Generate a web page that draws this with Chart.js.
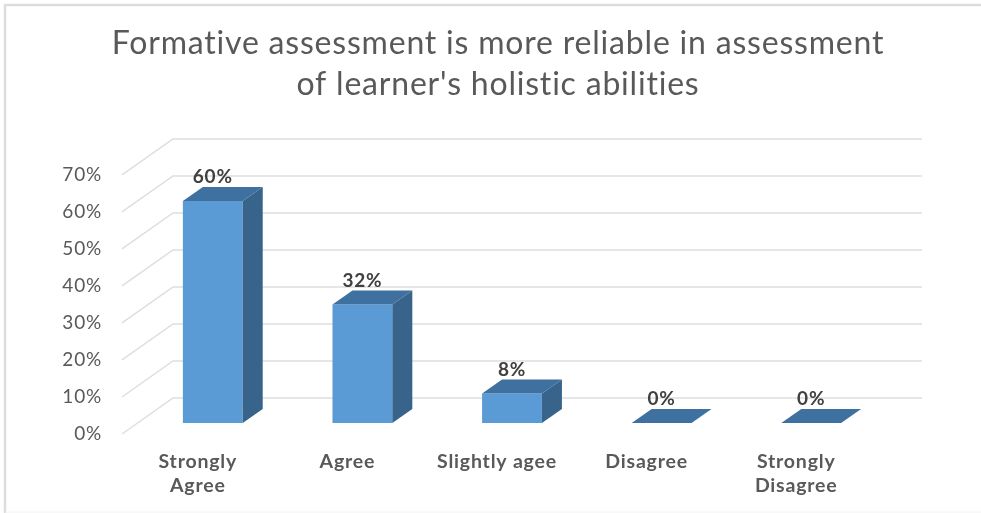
<!DOCTYPE html>
<html>
<head>
<meta charset="utf-8">
<style>
  html, body { margin: 0; padding: 0; background: #fff; }
  canvas { display: block; }
</style>
<script src="https://cdn.jsdelivr.net/npm/chart.js@4"></script>
</head>
<body>
<canvas id="chart" width="981" height="513"></canvas>
<script>
const titleLines = ['Formative assessment is more reliable in assessment', "of learner's holistic abilities"];
const categories = [['Strongly', 'Agree'], 'Agree', 'Slightly agee', 'Disagree', ['Strongly', 'Disagree']];
const percentages = [60, 32, 8, 0, 0];

const TEXT = '#595959';
const GRID = '#dedede';

// fake 3d: offsets from the front plane of the bars, in pixels
const barDepth = { dx: 20, dy: 14 };
const wallBack = { x: 173, right: 922, dy: -25 };
const wallFront = { x: 122, dy: 11 };

// grid on the back wall plus the slanted lines on the side wall
const wallPlugin = {
    id: 'wall',
    beforeDatasetsDraw(chart) {
        const ctx = chart.ctx;
        const y = chart.scales.y;
        ctx.save();
        ctx.strokeStyle = GRID;
        ctx.lineWidth = 1.5;
        y.ticks.forEach(t => {
            const py = y.getPixelForValue(t.value);
            ctx.beginPath();
            ctx.moveTo(wallFront.x, py + wallFront.dy);
            ctx.lineTo(wallBack.x, py + wallBack.dy);
            ctx.lineTo(wallBack.right, py + wallBack.dy);
            ctx.stroke();
        });
        ctx.restore();
    }
};

// side and top faces of each bar, then the value on top
const depthPlugin = {
    id: 'depth',
    afterDatasetsDraw(chart) {
        const ctx = chart.ctx;
        const { dx, dy } = barDepth;
        ctx.save();
        chart.getDatasetMeta(0).data.forEach((bar, i) => {
            const p = bar.getProps(['x', 'y', 'base', 'width'], true);
            const l = p.x - p.width / 2;
            const r = p.x + p.width / 2;

            if (p.base > p.y) {
                ctx.fillStyle = '#38648c';
                ctx.beginPath();
                ctx.moveTo(r, p.y);
                ctx.lineTo(r + dx, p.y - dy);
                ctx.lineTo(r + dx, p.base - dy);
                ctx.lineTo(r, p.base);
                ctx.closePath();
                ctx.fill();
            }

            ctx.fillStyle = '#3e70a0';
            ctx.beginPath();
            ctx.moveTo(l, p.y);
            ctx.lineTo(l + dx, p.y - dy);
            ctx.lineTo(r + dx, p.y - dy);
            ctx.lineTo(r, p.y);
            ctx.closePath();
            ctx.fill();

            ctx.fillStyle = '#404040';
            ctx.font = 'bold 19px Lato';
            ctx.textAlign = 'center';
            ctx.textBaseline = 'middle';
            ctx.fillText(percentages[i] + '%', p.x, p.y - 24);
        });
        ctx.restore();
    }
};

// frame of the picture, and the wider text spacing of the original
const framePlugin = {
    id: 'frame',
    beforeDraw(chart) {
        const ctx = chart.ctx;
        ctx.letterSpacing = '0.8px';
        ctx.save();
        ctx.strokeStyle = '#dddddd';
        ctx.lineWidth = 2.5;
        ctx.beginPath();
        ctx.moveTo(5, 513);
        ctx.lineTo(5, 5);
        ctx.lineTo(981, 5);
        ctx.stroke();
        ctx.strokeStyle = '#f2f2f2';
        ctx.lineWidth = 1;
        ctx.beginPath();
        ctx.moveTo(5, 512);
        ctx.lineTo(981, 512);
        ctx.stroke();
        ctx.restore();
    }
};

new Chart(document.getElementById('chart').getContext('2d'), {
    type: 'bar',
    data: {
        labels: categories,
        datasets: [{
            data: percentages,
            backgroundColor: '#5b9bd5',
            borderWidth: 0,
            barPercentage: 0.4,
            categoryPercentage: 1
        }]
    },
    plugins: [framePlugin, wallPlugin, depthPlugin],
    options: {
        responsive: false,
        animation: false,
        layout: { padding: { left: 15, right: 0, top: 0, bottom: 0 } },
        plugins: {
            legend: { display: false },
            tooltip: { enabled: false },
            title: {
                display: true,
                text: titleLines,
                color: TEXT,
                font: { family: 'Lato', size: 32, weight: 'normal', lineHeight: 1.28 },
                padding: { top: 23, bottom: 59 }
            }
        },
        scales: {
            x: {
                grid: { display: false, drawTicks: false },
                border: { display: false },
                ticks: {
                    color: TEXT,
                    font: { family: 'Lato', size: 19.5, weight: 'bold', lineHeight: 1.27 },
                    padding: 26,
                    labelOffset: -15,
                    maxRotation: 0,
                    autoSkip: false
                },
                afterFit(scale) { scale.height = 90; }
            },
            y: {
                min: 0,
                max: 70,
                grid: { display: false, drawTicks: false },
                border: { display: false },
                ticks: {
                    stepSize: 10,
                    color: TEXT,
                    font: { family: 'Lato', size: 19 },
                    padding: 36,
                    labelOffset: 11,
                    callback: v => v + '%'
                },
                afterFit(scale) { scale.width = 123; }
            },
            // empty axis, only keeps the plot clear of the right hand side
            spacer: {
                position: 'right',
                grid: { display: false, drawTicks: false },
                border: { display: false },
                ticks: { display: false },
                afterFit(scale) { scale.width = 95; }
            }
        }
    }
});
</script>
</body>
</html>
